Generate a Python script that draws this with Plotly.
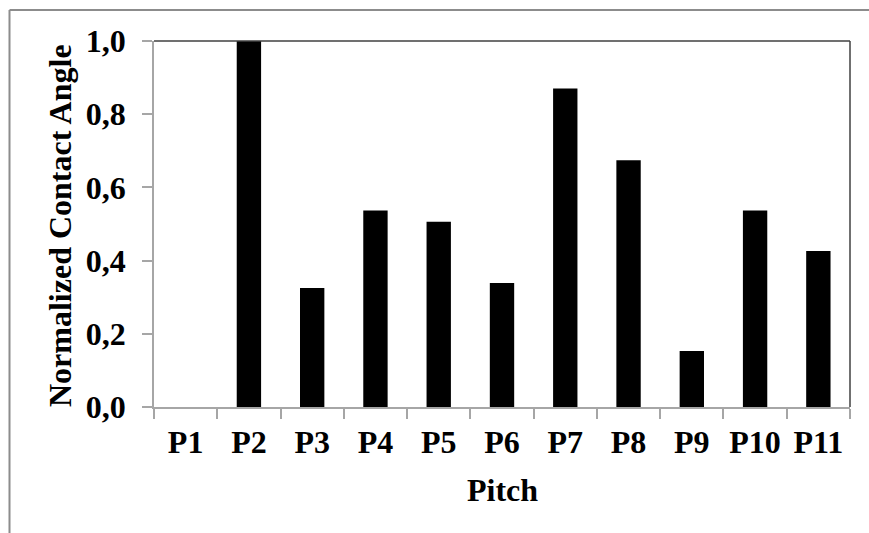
import plotly.graph_objects as go

# Normalized contact angle per pitch
categories = ["P1", "P2", "P3", "P4", "P5", "P6", "P7", "P8", "P9", "P10", "P11"]
values = [0.0, 1.0, 0.325, 0.537, 0.506, 0.339, 0.870, 0.674, 0.153, 0.537, 0.426]
y_ticks = [0.0, 0.2, 0.4, 0.6, 0.8, 1.0]

W, H = 869, 533
L, R, T, B = 154, 19, 41, 126
pw, ph = W - L - R, H - T - B

def px_x(x):
    return (x - L) / pw

def px_y(y):
    return 1 - (y - T) / ph

FONT = "Liberation Serif, Times New Roman, serif"
FS = 32

fig = go.Figure(
    go.Bar(
        x=categories,
        y=values,
        marker=dict(color="black", line=dict(width=0)),
    )
)

fig.update_layout(
    width=W,
    height=H,
    margin=dict(l=L, r=R, t=T, b=B),
    paper_bgcolor="white",
    plot_bgcolor="white",
    bargap=0.615,
    separators=",.",
    showlegend=False,
    font=dict(family=FONT, size=FS, color="black"),
)

fig.update_xaxes(
    showline=True,
    linecolor="#a6a6a6",
    linewidth=1.5,
    ticks="outside",
    tickson="boundaries",
    ticklen=10,
    tickcolor="#a6a6a6",
    tickwidth=1.5,
    showgrid=False,
    tickfont=dict(family=FONT, size=FS, color="black", weight="bold"),
    ticklabelstandoff=6,
)

fig.update_yaxes(
    range=[0, 1.0],
    tickvals=y_ticks,
    tickformat=".1f",
    showline=True,
    linecolor="#a6a6a6",
    linewidth=1.5,
    ticks="outside",
    ticklen=10,
    tickcolor="#a6a6a6",
    tickwidth=1.5,
    showgrid=False,
    zeroline=False,
    tickfont=dict(family=FONT, size=FS, color="black", weight="bold"),
    ticklabelstandoff=10,
)

shapes = [
    # plot area border (top and right)
    dict(type="line", xref="paper", yref="paper", x0=0, x1=1, y0=1, y1=1,
         line=dict(color="#404040", width=1.5)),
    dict(type="line", xref="paper", yref="paper", x0=1, x1=1, y0=0, y1=1,
         line=dict(color="#404040", width=1.5)),
    # chart area border
    dict(type="line", xref="paper", yref="paper", x0=px_x(9.5), x1=px_x(W + 5),
         y0=px_y(10), y1=px_y(10), line=dict(color="#8c8c8c", width=2)),
    dict(type="line", xref="paper", yref="paper", x0=px_x(9.5), x1=px_x(9.5),
         y0=px_y(10), y1=px_y(H + 5), line=dict(color="#8c8c8c", width=2)),
]
fig.update_layout(shapes=shapes)

fig.add_annotation(
    text="<b>Normalized Contact Angle</b>", textangle=-90,
    xref="paper", yref="paper", x=px_x(60), y=px_y(226),
    showarrow=False, font=dict(family=FONT, size=FS, color="black"),
    xanchor="center", yanchor="middle",
)
fig.add_annotation(
    text="<b>Pitch</b>",
    xref="paper", yref="paper", x=0.5, y=px_y(490),
    showarrow=False, font=dict(family=FONT, size=FS, color="black"),
    xanchor="center", yanchor="middle",
)

fig.write_html("out.html")
